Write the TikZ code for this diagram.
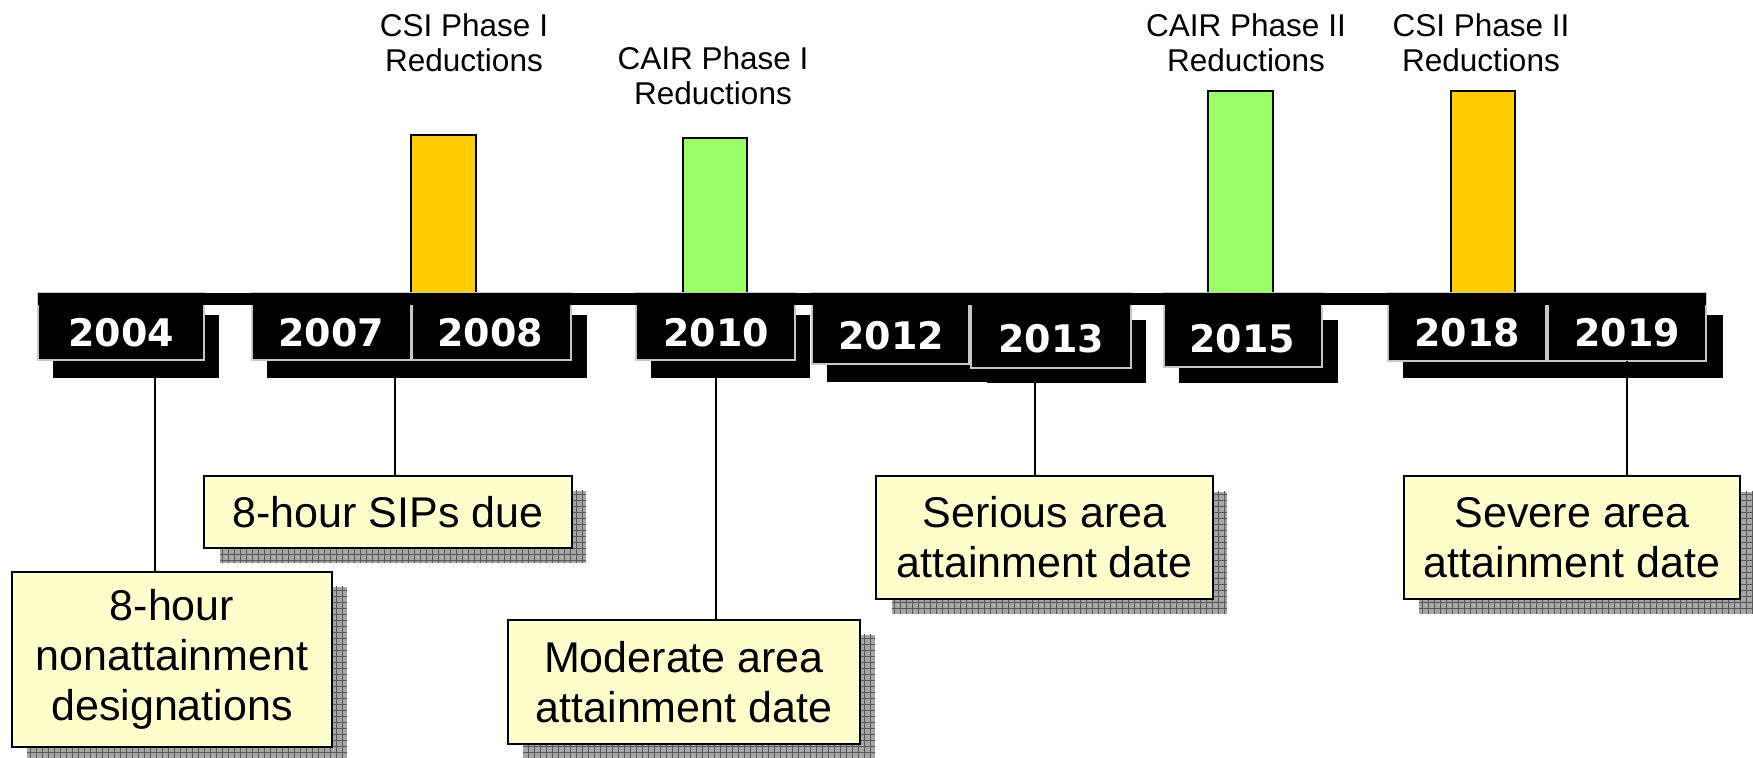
\documentclass[tikz,border=0pt]{standalone}
\usepackage{fontspec}
\setmainfont{Liberation Sans}
\newfontfamily\yearfont{DejaVu Sans}
\usetikzlibrary{patterns,fit}
\definecolor{csiorange}{HTML}{FFCC00}
\definecolor{cairgreen}{HTML}{99FF66}
\definecolor{calloutfill}{HTML}{FFFFCC}
\begin{document}
\begin{tikzpicture}[x=0.5pt,y=-0.5pt,
  yearbox/.style={fill=black, draw=black!22, line width=0.6pt, inner sep=0pt},
  yearshadow/.style={fill=black},
  yeartext/.style={text=white, font=\yearfont\bfseries\fontsize{19}{22}\selectfont, inner sep=0pt},
  phasebar/.style={draw=black, line width=1.2pt, inner sep=0pt},
  toplabel/.style={align=center, font=\fontsize{15.75}{17.5}\selectfont, inner sep=0pt, anchor=north},
  callout/.style={fill=calloutfill, draw=black, line width=1pt, inner sep=0pt, anchor=north west, align=center, font=\fontsize{21.5}{25}\selectfont},
  calloutshadow/.style={fill=black!35, postaction={pattern=grid, pattern color=black!65}},
  conn/.style={draw=black, line width=0.8pt}
]
\useasboundingbox (0,0) rectangle (1753,758);
\clip (0,0) rectangle (1753,758);

% phase bars
\node[phasebar, fill=csiorange, fit={(411,135) (476,293)}] (csi1) {};
\node[phasebar, fill=cairgreen, fit={(683,138) (747,295)}] (cair1) {};
\node[phasebar, fill=cairgreen, fit={(1208,91) (1273,295)}] (cair2) {};
\node[phasebar, fill=csiorange, fit={(1451,91) (1515,295)}] (csi2) {};

% top labels
\node[toplabel] (lcsi1) at (464,13) {CSI Phase I\\Reductions};
\node[toplabel] (lcair1) at (713,46) {CAIR Phase I\\Reductions};
\node[toplabel] (lcair2) at (1246,13) {CAIR Phase II\\Reductions};
\node[toplabel] (lcsi2) at (1481,13) {CSI Phase II\\Reductions};

% year shadows
\path[yearshadow] (53,315) rectangle (219,378);
\path[yearshadow] (267,315) rectangle (587,378);
\path[yearshadow] (651,315) rectangle (810,378);
\path[yearshadow] (827,312) rectangle (987,382);
\path[yearshadow] (987,320) rectangle (1146,383);
\path[yearshadow] (1179,320) rectangle (1338,383);
\path[yearshadow] (1403,315) rectangle (1723,378);

% year boxes
\node[yearbox, fit={(38,293) (204,360)}] (b2004) {};
\node[yearbox, fit={(252,293) (411,360)}] (b2007) {};
\node[yearbox, fit={(412,293) (571,360)}] (b2008) {};
\node[yearbox, fit={(636,293) (795,360)}] (b2010) {};
\node[yearbox, fit={(812,293) (969,364)}] (b2012) {};
\node[yearbox, fit={(971,293) (1131,368)}] (b2013) {};
\node[yearbox, fit={(1164,293) (1322,367)}] (b2015) {};
\node[yearbox, fit={(1388,293) (1546,361)}] (b2018) {};
\node[yearbox, fit={(1548,293) (1706,361)}] (b2019) {};

% timeline bar
\path[fill=black] (38,293) rectangle (1706,305);

% year texts
\node[yeartext] (t2004) at (121,333) {2004};
\node[yeartext] (t2007) at (331,333) {2007};
\node[yeartext] (t2008) at (490,333) {2008};
\node[yeartext] (t2010) at (716,333) {2010};
\node[yeartext] (t2012) at (891,336) {2012};
\node[yeartext] (t2013) at (1051,339) {2013};
\node[yeartext] (t2015) at (1242,339) {2015};
\node[yeartext] (t2018) at (1467,333) {2018};
\node[yeartext] (t2019) at (1627,333) {2019};

% callout shadows
\path[calloutshadow] (27,587) rectangle (347,770);
\path[calloutshadow] (220,491) rectangle (586,563);
\path[calloutshadow] (523,635) rectangle (875,770);
\path[calloutshadow] (892,492) rectangle (1227,614);
\path[calloutshadow] (1419,492) rectangle (1760,614);

% callouts
\node[callout, minimum width=160pt, minimum height=87.5pt] (n1) at (11,571) {8-hour\\nonattainment\\designations};
\node[callout, minimum width=184pt, minimum height=36pt] (n2) at (203,475) {8-hour SIPs due};
\node[callout, minimum width=176pt, minimum height=62pt] (n3) at (507,619) {Moderate area\\attainment date};
\node[callout, minimum width=168.5pt, minimum height=61.5pt] (n4) at (875,475) {Serious area\\attainment date};
\node[callout, minimum width=168pt, minimum height=61.5pt] (n5) at (1403,475) {Severe area\\attainment date};

% connectors
\coordinate (k2004) at (155,378);
\coordinate (k2007) at (395,378);
\coordinate (k2010) at (716,378);
\coordinate (k2013) at (1035,383);
\coordinate (k2019) at (1627,361);
\draw[conn] (k2004) -- (k2004 |- n1.north);
\draw[conn] (k2007) -- (k2007 |- n2.north);
\draw[conn] (k2010) -- (k2010 |- n3.north);
\draw[conn] (k2013) -- (k2013 |- n4.north);
\draw[conn] (k2019) -- (k2019 |- n5.north);
\end{tikzpicture}
\end{document}
